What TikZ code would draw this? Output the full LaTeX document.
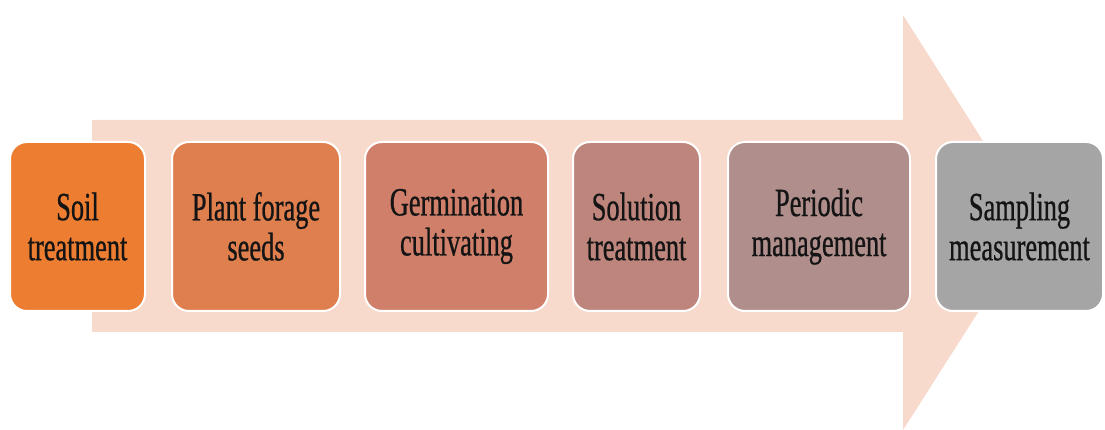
\documentclass[tikz,border=0pt]{standalone}
\usepackage{fontspec}
\setmainfont{Liberation Serif}[FakeStretch=0.66, FakeBold=0.6]
\begin{document}
\begin{tikzpicture}[x=1pt,y=1pt,
  stepbox/.style={draw=white, line width=2pt, rounded corners=17pt,
    minimum height=169pt, align=center, inner sep=0pt,
    font=\fontsize{40}{40}\selectfont, text=black!92},
]
\definecolor{arrowfill}{HTML}{F8DACD}
\definecolor{c1}{HTML}{ED7D31}
\definecolor{c2}{HTML}{DF7F4E}
\definecolor{c3}{HTML}{D0806A}
\definecolor{c4}{HTML}{BD857B}
\definecolor{c5}{HTML}{AF8E8C}
\definecolor{c6}{HTML}{A5A5A5}
\useasboundingbox (0,0) rectangle (1105,430);
\fill[white] (0,0) rectangle (1105,430);
% background block arrow
\fill[arrowfill] (92,98) -- (92,310) -- (903,310) -- (903,415)
  -- (1035,207) -- (903,0) -- (903,98) -- cycle;
% process steps: fill colour, left and right edge, label
\newcommand{\stepnode}[5]{%
  \node[stepbox, fill=#2, minimum width={#4-#3}]
    (#1) at ({(#3+#4)/2},203.5) {#5};}
\stepnode{s1}{c1}{10}{145}{Soil\\treatment}
\stepnode{s2}{c2}{172}{340}{Plant forage\\seeds}
\stepnode{s3}{c3}{365}{548}{Germination\\cultivating}
\stepnode{s4}{c4}{573}{700}{Solution\\treatment}
\stepnode{s5}{c5}{728}{910}{Periodic\\management}
\stepnode{s6}{c6}{936}{1103}{Sampling\\measurement}
\end{tikzpicture}
\end{document}
